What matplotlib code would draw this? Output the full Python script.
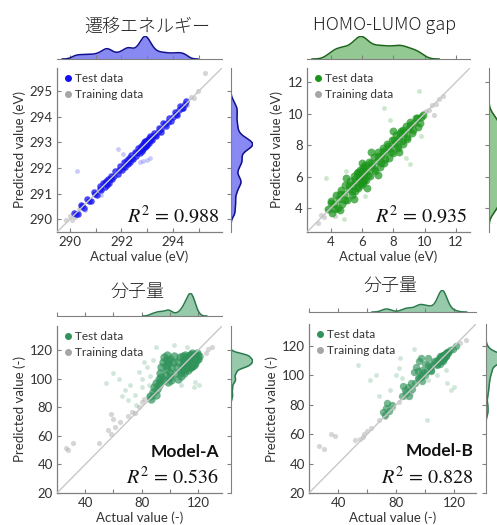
import matplotlib

matplotlib.use("Agg")
import matplotlib.pyplot as plt
from matplotlib.lines import Line2D
import numpy as np
import seaborn as sns

W, H = 497, 525

# ---- panel 1: 遷移エネルギー (eV) ----
p1_core_x = [290.15, 290.30, 290.42, 290.55, 290.68, 290.80, 290.92, 291.05, 291.15, 291.22,
             291.30, 291.35, 291.40, 291.42, 291.48, 291.52, 291.58, 291.65, 291.75, 291.85,
             291.95, 292.02, 292.10, 292.15, 292.20, 292.24, 292.28, 292.32, 292.38, 292.45,
             292.52, 292.58, 292.64, 292.70, 292.74, 292.78, 292.82, 292.85, 292.88, 292.90,
             292.93, 292.95, 292.98, 293.01, 293.05, 293.08, 293.12, 293.18, 293.26, 293.34,
             293.44, 293.52, 293.62, 293.72, 293.84, 293.94, 294.06, 294.16, 294.28, 294.40,
             294.52,
             290.22, 290.48, 290.74, 290.98, 291.18, 291.38, 291.44, 291.55, 291.70, 291.90,
             292.05, 292.18, 292.26, 292.34, 292.42, 292.55, 292.66, 292.72, 292.76, 292.80,
             292.84, 292.87, 292.89, 292.91, 292.94, 292.97, 293.00, 293.03, 293.06, 293.10,
             293.15, 293.22, 293.30, 293.40, 293.55, 293.68, 293.80, 293.98, 294.12, 294.24,
             294.36, 294.48]
p1_core_y = [290.25, 290.22, 290.55, 290.45, 290.80, 290.70, 291.05, 290.95, 291.28, 291.12,
             291.42, 291.25, 291.50, 291.33, 291.58, 291.42, 291.68, 291.55, 291.88, 291.75,
             292.08, 291.92, 292.22, 292.05, 292.32, 292.14, 292.40, 292.22, 292.50, 292.35,
             292.64, 292.48, 292.76, 292.60, 292.86, 292.68, 292.94, 292.75, 293.00, 292.80,
             293.05, 292.86, 293.10, 292.91, 293.16, 292.98, 293.24, 293.08, 293.38, 293.24,
             293.56, 293.42, 293.74, 293.62, 293.96, 293.84, 294.18, 294.06, 294.40, 294.32,
             294.62,
             290.20, 290.50, 290.72, 291.00, 291.16, 291.40, 291.42, 291.57, 291.68, 291.92,
             292.03, 292.20, 292.24, 292.36, 292.40, 292.57, 292.64, 292.74, 292.74, 292.82,
             292.82, 292.89, 292.87, 292.93, 292.92, 292.99, 292.98, 293.05, 293.04, 293.12,
             293.13, 293.24, 293.28, 293.42, 293.53, 293.70, 293.78, 294.00, 294.10, 294.26,
             294.34, 294.50]
p1_out_x = [290.28, 291.87, 292.72, 292.85, 293.00, 293.10, 291.20, 292.05, 290.60]
p1_out_y = [291.90, 292.73, 292.24, 292.28, 292.32, 292.40, 290.95, 292.55, 290.35]
p1_train_x = [289.85, 290.00, 290.08, 290.20, 290.35, 294.30, 294.42, 294.55, 294.68, 294.80,
              294.95, 295.25, 293.20, 291.60]
p1_train_y = [289.95, 290.12, 289.98, 290.08, 290.40, 294.38, 294.50, 294.45, 294.75, 294.72,
              295.02, 295.70, 293.25, 291.62]

# ---- panel 2: HOMO-LUMO gap (eV) ----
p2_core_x = [3.85, 4.00, 4.10, 4.25, 4.35, 4.45, 4.55, 4.65, 4.75, 4.85, 4.95, 5.05, 5.15,
             5.25, 5.35, 5.45, 5.52, 5.58, 5.65, 5.72, 5.78, 5.85, 5.90, 5.95, 6.00, 6.05,
             6.10, 6.15, 6.22, 6.28, 6.35, 6.45, 6.55, 6.65, 6.75, 6.85, 6.95, 7.05, 7.15,
             7.25, 7.32, 7.40, 7.50, 7.60, 7.70, 7.80, 7.90, 8.00, 8.10, 8.20, 8.30, 8.40,
             8.50, 8.60, 8.70, 8.80, 8.90, 9.00, 9.10, 9.20, 9.35, 9.50, 9.60, 9.75, 9.90,
             4.05, 4.30, 4.60, 4.90, 5.20, 5.40, 5.55, 5.68, 5.80, 5.92, 6.02, 6.12, 6.25,
             6.40, 6.60, 6.80, 7.00, 7.20, 7.35, 7.45, 7.65, 7.85, 8.05, 8.25, 8.45, 8.55,
             8.65, 8.85, 9.05, 9.25, 9.45, 9.70,
             5.00, 5.50, 6.60, 7.00, 8.00, 8.40, 4.60, 6.00, 6.30, 5.90, 6.05, 5.75]
p2_core_y = [3.95, 4.45, 3.70, 4.30, 4.85, 4.00, 4.60, 5.15, 4.30, 4.90, 5.45, 4.55, 5.20,
             5.75, 4.85, 5.50, 6.05, 5.10, 5.70, 6.25, 5.30, 5.90, 6.45, 5.45, 6.05, 6.60,
             5.60, 6.20, 6.75, 5.78, 6.40, 6.95, 6.05, 6.70, 7.25, 6.35, 7.00, 7.55, 6.65,
             7.30, 7.85, 6.90, 7.55, 8.05, 7.20, 7.85, 8.35, 7.50, 8.15, 8.65, 7.80, 8.45,
             8.90, 8.10, 8.75, 9.20, 8.40, 9.05, 9.45, 8.75, 9.40, 9.70, 9.15, 9.80, 9.95,
             4.35, 3.95, 4.90, 4.55, 5.50, 5.10, 5.85, 5.35, 6.10, 5.60, 6.35, 5.80, 6.55,
             6.10, 6.90, 6.50, 7.30, 6.90, 7.65, 7.15, 7.95, 7.55, 8.35, 7.95, 8.75, 8.25,
             8.95, 8.55, 9.30, 8.95, 9.70, 9.40,
             5.90, 4.60, 7.60, 6.10, 8.90, 7.60, 3.90, 6.90, 5.30, 6.00, 5.80, 6.30]
p2_out_x = [3.70, 4.86, 7.39, 9.65, 9.06, 5.00, 8.80, 6.20, 7.80, 9.80, 4.20]
p2_out_y = [5.90, 3.30, 10.38, 11.43, 6.84, 6.40, 7.20, 4.80, 9.60, 8.60, 4.70]
p2_train_x = [3.20, 3.40, 3.60, 3.80, 4.00, 9.90, 10.10, 10.30, 10.50, 10.70, 10.90, 11.20, 4.30, 10.60]
p2_train_y = [3.10, 3.55, 3.45, 3.95, 3.85, 10.05, 10.20, 10.25, 10.55, 10.60, 10.95, 11.10, 3.50, 9.90]

# ---- panel 3: 分子量, Model-A ----
p3_core_x = [92, 93, 94, 95, 96, 97, 98, 99, 100, 96, 94, 98, 100, 101, 102, 103,
             104, 105, 106, 107, 108, 109, 110, 111, 112, 113, 114, 115, 116, 117, 118, 119,
             120, 110, 113, 106, 108, 111, 112, 109, 115, 117, 121, 118, 114, 112, 113, 114,
             115, 116, 111, 110, 114, 116,
             86, 88, 89, 90, 91, 92, 87, 93, 90,
             108, 109, 110, 111, 112, 113, 114, 115, 116, 117, 118, 119, 110, 112, 114, 116,
             118, 111, 113, 115, 117, 119, 112, 114, 116, 115, 113, 117, 114, 116,
             99, 100, 101, 98, 97,
             113, 114, 115, 116, 117, 115, 116, 114, 113, 117, 118, 115, 116, 114, 112]
p3_core_y = [100, 104, 108, 112, 115, 103, 107, 111, 114, 99, 101, 117, 104, 108, 112, 116,
             104, 108, 112, 115, 106, 110, 113, 117, 108, 111, 114, 117, 110, 113, 116, 118,
             114, 104, 106, 100, 102, 112, 115, 116, 112, 117, 116, 111, 108, 110, 109, 112,
             111, 113, 109, 110, 110, 109,
             88, 91, 94, 89, 93, 96, 86, 98, 97,
             105, 107, 108, 110, 111, 112, 113, 114, 115, 116, 115, 117, 112, 114, 116, 117,
             117, 106, 108, 110, 113, 114, 109, 111, 112, 108, 115, 110, 117, 114,
             98, 101, 99, 113, 109,
             113, 114, 115, 116, 112, 110, 111, 109, 110, 114, 113, 117, 118, 116, 113]
p3_out_x = [55, 60, 64, 68, 72, 75, 78, 80, 82, 84, 86, 88, 90, 103, 112, 118, 117, 121,
            108, 76, 70, 66, 85, 80]
p3_out_y = [97, 104, 100, 92, 96, 89, 105, 100, 112, 108, 102, 113, 122, 124, 122, 98, 94, 96,
            96, 82, 85, 88, 96, 94]
p3_train_x = [26.7, 31.5, 28, 50, 56, 58, 61, 65, 70, 73, 75, 78, 80, 82, 85, 88, 91, 60, 58,
              129.7, 126, 127]
p3_train_y = [51.8, 55.3, 50, 55, 64, 61, 66, 70, 74, 77, 76, 80, 84, 86, 88, 90, 93, 72, 75,
              122.3, 118, 121]

# ---- panel 4: 分子量, Model-B ----
p4_core_x = [93, 95, 97, 99, 101, 103, 105, 107, 109, 111, 113, 115, 117, 119, 121, 100, 104,
             108, 112, 116, 110, 106, 102, 111, 112, 113, 114, 110, 109,
             92, 94, 96, 98, 100, 102, 104, 97, 95,
             84, 86, 88, 90, 87, 89, 91, 85,
             71, 73, 75, 77, 72, 74,
             108, 109, 110, 111, 112, 113, 114, 115, 111, 112, 113, 110, 112, 114, 116, 109,
             111, 113, 96, 97, 98,
             111, 112, 113, 112, 111, 113, 112, 114, 110, 112]
p4_core_y = [95, 98, 99, 102, 103, 106, 107, 109, 111, 113, 114, 116, 117, 118, 120, 100, 103,
             108, 111, 115, 113, 110, 107, 111, 112, 113, 113, 110, 110,
             102, 106, 110, 104, 108, 112, 104, 112, 103,
             86, 90, 92, 95, 88, 86, 91, 93,
             75, 78, 76, 80, 73, 81,
             107, 109, 110, 110, 112, 112, 113, 115, 111, 113, 112, 108, 110, 115, 116, 110,
             112, 114, 98, 100, 96,
             112, 113, 114, 111, 110, 112, 114, 115, 111, 112]
p4_out_x = [62, 66, 80, 82, 84, 102, 108, 114, 118, 120, 115, 101, 76, 68, 83, 92, 54]
p4_out_y = [97, 100, 100, 105, 98, 97, 100, 104, 90, 92, 95, 70, 90, 86, 112, 118, 107]
p4_train_x = [27, 30, 35, 38, 52, 55, 57, 58, 60, 63, 68, 72, 78, 82, 86, 90, 124, 128]
p4_train_y = [52, 50, 60, 59, 56, 57, 58, 60, 62, 64, 70, 72, 78, 82, 85, 88, 122, 124]

panels = [
    dict(title="遷移エネルギー", title_xy=(147, 27),
         main=(57, 68, 222, 232), top=(57, 36, 222, 59), right=(231, 68, 253, 232),
         lim=(289.5, 295.9), ticks=[290, 291, 292, 293, 294, 295],
         xlabels=["290", "", "292", "", "294", ""], ylabels=["290", "291", "292", "293", "294", "295"],
         unit="(eV)", r2="0.988", model=None,
         core=(p1_core_x, p1_core_y), out=(p1_out_x, p1_out_y), train=(p1_train_x, p1_train_y),
         color="#1212f0", fill="#6c6cf0", line="#10108c", bw=0.35, s=22, a=0.75),
    dict(title="HOMO-LUMO gap", title_xy=(385, 25),
         main=(307, 68, 470, 232), top=(307, 36, 470, 59), right=(489, 68, 511, 232),
         lim=(2.5, 12.9), ticks=[4, 6, 8, 10, 12],
         xlabels=["4", "6", "8", "10", "12"], ylabels=["4", "6", "8", "10", "12"],
         unit="(eV)", r2="0.935", model=None,
         core=(p2_core_x, p2_core_y), out=(p2_out_x, p2_out_y), train=(p2_train_x, p2_train_y),
         color="#1a941a", fill="#78bb78", line="#1c661c", bw=0.55, s=32, a=0.7),
    dict(title="分子量", title_xy=(137, 292),
         main=(57, 326, 222, 493), top=(57, 293, 222, 316), right=(231, 326, 253, 493),
         lim=(20, 137), ticks=[20, 40, 60, 80, 100, 120],
         xlabels=["", "40", "", "80", "", "120"], ylabels=["20", "40", "60", "80", "100", "120"],
         unit="(-)", r2="0.536", model="Model-A",
         core=(p3_core_x, p3_core_y), out=(p3_out_x, p3_out_y), train=(p3_train_x, p3_train_y),
         color="#2f935a", fill="#7dbd96", line="#2b7a4e", bw=0.5, s=36, a=0.7),
    dict(title="分子量", title_xy=(390, 286),
         main=(309, 324, 476, 493), top=(309, 290, 476, 312), right=(486, 324, 508, 493),
         lim=(20, 135), ticks=[20, 40, 60, 80, 100, 120],
         xlabels=["", "40", "", "80", "", "120"], ylabels=["20", "40", "60", "80", "100", "120"],
         unit="(-)", r2="0.828", model="Model-B",
         core=(p4_core_x, p4_core_y), out=(p4_out_x, p4_out_y), train=(p4_train_x, p4_train_y),
         color="#2f935a", fill="#7dbd96", line="#2b7a4e", bw=0.5, s=28, a=0.65),
]

SPINE = "#808080"
TXT = "#333333"
GRAY = "#a6a6a6"


def rect(x0, y0, x1, y1):
    return [x0 / W, 1 - y1 / H, (x1 - x0) / W, (y1 - y0) / H]


def main() -> None:
    plt.rcParams["font.family"] = ["Lato", "DejaVu Sans"]
    plt.rcParams["mathtext.fontset"] = "stix"
    fig = plt.figure(figsize=(W / 100, H / 100), dpi=100)

    for p in panels:
        ax = fig.add_axes(rect(*p["main"]))
        ax_t = fig.add_axes(rect(*p["top"]))
        ax_r = fig.add_axes(rect(*p["right"]))
        lo, hi = p["lim"]

        ax.scatter(p["train"][0], p["train"][1], s=14, color=GRAY, alpha=0.45, linewidths=0, zorder=1)
        ax.scatter(p["out"][0], p["out"][1], s=12, color=p["color"], alpha=0.22, linewidths=0, zorder=2)
        ax.scatter(p["core"][0], p["core"][1], s=p["s"], color=p["color"], alpha=p["a"],
                   linewidths=0, zorder=2)
        ax.plot([lo, hi], [lo, hi], color="#c8c8c8", lw=1.0, zorder=3)
        ax.set_xlim(lo, hi)
        ax.set_ylim(lo, hi)
        ax.set_xticks(p["ticks"])
        ax.set_xticklabels(p["xlabels"])
        ax.set_yticks(p["ticks"])
        ax.set_yticklabels(p["ylabels"])
        for s in ("top", "right"):
            ax.spines[s].set_visible(False)
        for s in ("left", "bottom"):
            ax.spines[s].set_color(SPINE)
            ax.spines[s].set_linewidth(0.9)
        ax.tick_params(direction="in", length=3, color=SPINE, labelsize=9.5, labelcolor=TXT, pad=3)
        ax.set_xlabel(f"Actual value {p['unit']}", fontsize=9.5, color=TXT, labelpad=2)
        ax.set_ylabel(f"Predicted value {p['unit']}", fontsize=9.5, color=TXT, labelpad=3)

        handles = [
            Line2D([], [], marker="o", ls="", ms=4, color=p["color"], label="Test data"),
            Line2D([], [], marker="o", ls="", ms=4, color=GRAY, label="Training data"),
        ]
        ax.legend(handles=handles, loc="upper left", frameon=False, fontsize=8.5,
                  handletextpad=0.1, handlelength=1.0, labelspacing=0.45,
                  borderaxespad=0.1, borderpad=0.3, labelcolor=TXT)

        ax.text(0.985, 0.03, rf"$R^2$ = {p['r2']}", transform=ax.transAxes,
                ha="right", va="bottom", fontsize=14.5, color="#111111", family="STIXGeneral")
        if p["model"]:
            ax.text(0.985, 0.2, p["model"], transform=ax.transAxes, ha="right", va="bottom",
                    fontsize=12.5, fontweight="bold", color="#111111")

        # marginal distributions of the test data
        xs = np.asarray(p["core"][0], dtype=float)
        ys = np.asarray(p["core"][1], dtype=float)
        sns.kdeplot(x=xs, ax=ax_t, fill=True, color=p["fill"], alpha=0.8, linewidth=0, bw_adjust=p["bw"])
        sns.kdeplot(x=xs, ax=ax_t, color=p["line"], linewidth=1.1, bw_adjust=p["bw"])
        sns.kdeplot(y=ys, ax=ax_r, fill=True, color=p["fill"], alpha=0.8, linewidth=0, bw_adjust=p["bw"])
        sns.kdeplot(y=ys, ax=ax_r, color=p["line"], linewidth=1.1, bw_adjust=p["bw"])

        ax_t.set_xlim(lo, hi)
        ax_t.set_ylim(0, ax_t.get_ylim()[1] * 0.97)
        ax_r.set_ylim(lo, hi)
        ax_r.set_xlim(0, ax_r.get_xlim()[1] * 0.97)
        for a in (ax_t, ax_r):
            a.set_facecolor("none")
            a.set_xlabel("")
            a.set_ylabel("")
            for s in a.spines.values():
                s.set_visible(False)
        ax_t.spines["bottom"].set_visible(True)
        ax_t.spines["bottom"].set_color(SPINE)
        ax_t.set_xticks(p["ticks"])
        ax_t.set_yticks([])
        ax_t.tick_params(axis="x", direction="in", length=3, color=SPINE, labelbottom=False)
        ax_r.spines["left"].set_visible(True)
        ax_r.spines["left"].set_color(SPINE)
        ax_r.set_yticks(p["ticks"])
        ax_r.set_xticks([])
        ax_r.tick_params(axis="y", direction="out", length=3, color=SPINE, labelleft=False)

        fig.text(p["title_xy"][0] / W, 1 - p["title_xy"][1] / H, p["title"], ha="center", va="center",
                 fontsize=13, color="#222222", fontweight="light",
                 family=["Noto Sans CJK JP", "Lato", "DejaVu Sans"])

    fig.savefig("out.png", dpi=100)
    plt.close(fig)


if __name__ == "__main__":
    main()
